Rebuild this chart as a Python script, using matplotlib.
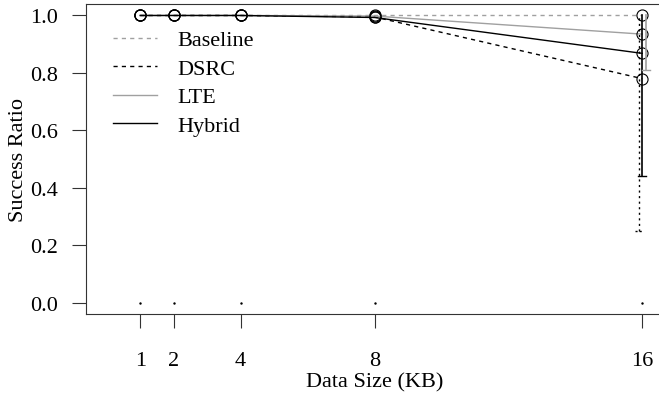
import matplotlib
matplotlib.use("Agg")
import matplotlib.pyplot as plt
import numpy as np

plt.rcParams['font.family'] = ['Liberation Serif', 'DejaVu Serif']
plt.rcParams['font.size'] = 16

sizes = [1, 2, 4, 8, 16]
baseline = [1.0, 1.0, 1.0, 1.0, 1.0]
dsrc = [1.0, 1.0, 1.0, 0.995, 0.78]
lte = [1.0, 1.0, 1.0, 0.998, 0.935]
hybrid = [1.0, 1.0, 1.0, 0.993, 0.868]
zeros = [0.0, 0.0, 0.0, 0.0, 0.0]

# error bars at 16 KB: (lower, upper)
dsrc_err = (0.25, 1.0)
lte_err = (0.81, 1.0)
hybrid_err = (0.44, 1.0)

xticks = [1, 2, 4, 8, 16]
yticks = [0.0, 0.2, 0.4, 0.6, 0.8, 1.0]

fig = plt.figure(figsize=(6.59, 4.02), dpi=100)
W, H = 659, 402
ax = fig.add_axes([86 / W, (402 - 315) / H, 577 / W, 310 / H])
ax.set_xlim(-0.62, 16.62)
ax.set_ylim(-0.04, 1.04)

gray = '#a0a0a0'
lw = 1.0
ms = 8

ax.plot(sizes, baseline, color=gray, lw=lw, dashes=(3, 3), marker='o', ms=ms,
        mfc='none', mec='black', mew=0.8, label='Baseline')
ax.plot(sizes, dsrc, color='black', lw=lw, dashes=(3, 3), marker='o', ms=ms,
        mfc='none', mec='black', mew=0.8, label='DSRC')
ax.plot(sizes, lte, color=gray, lw=lw, marker='o', ms=ms,
        mfc='none', mec='black', mew=0.8, label='LTE')
ax.plot(sizes, hybrid, color='black', lw=lw, marker='o', ms=ms,
        mfc='none', mec='black', mew=0.8, label='Hybrid')

x16 = sizes[-1]
cap = 0.12
# DSRC error bar (dotted)
ax.plot([x16 - 0.1, x16 - 0.1], [dsrc_err[0], dsrc_err[1]], color='black', lw=1.0, dashes=(1.5, 2.5))
ax.plot([x16 - 0.1 - cap, x16 - 0.1 + cap], [dsrc_err[0], dsrc_err[0]], color='black', lw=1.0, dashes=(1.5, 1.5))
# Hybrid error bar
ax.plot([x16, x16], [hybrid_err[0], hybrid_err[1]], color='black', lw=1.2)
ax.plot([x16 - cap, x16 + cap], [hybrid_err[0], hybrid_err[0]], color='black', lw=1.0)
# LTE error bar
ax.plot([x16 + 0.12, x16 + 0.12], [lte_err[0], lte_err[1]], color=gray, lw=1.2)
ax.plot([x16 + 0.12 - cap, x16 + 0.12 + cap], [lte_err[0], lte_err[0]], color=gray, lw=1.0)

# tiny marks at zero
ax.plot(sizes, zeros, linestyle='none', marker='s', ms=0.7, color='black')

ax.set_xticks(xticks)
ax.set_xticklabels([str(v) for v in xticks])
ax.set_yticks(yticks)
ax.set_yticklabels([f'{v:.1f}' for v in yticks])
ax.tick_params(direction='out', length=10, width=0.8, pad=10, color='#333333')
ax.tick_params(axis='x', pad=17)
for s in ax.spines.values():
    s.set_linewidth(0.8)
    s.set_color('#333333')

ax.set_xlabel('Data Size (KB)', labelpad=1)
ax.set_ylabel('Success Ratio', labelpad=2)

leg = ax.legend(loc='upper left', bbox_to_anchor=(0.0, 1.003), frameon=False,
                handlelength=2.0, handletextpad=0.9, labelspacing=0.36,
                borderaxespad=0.8)
for h in leg.get_lines():
    h.set_marker('')

fig.savefig('out.png', dpi=100)
